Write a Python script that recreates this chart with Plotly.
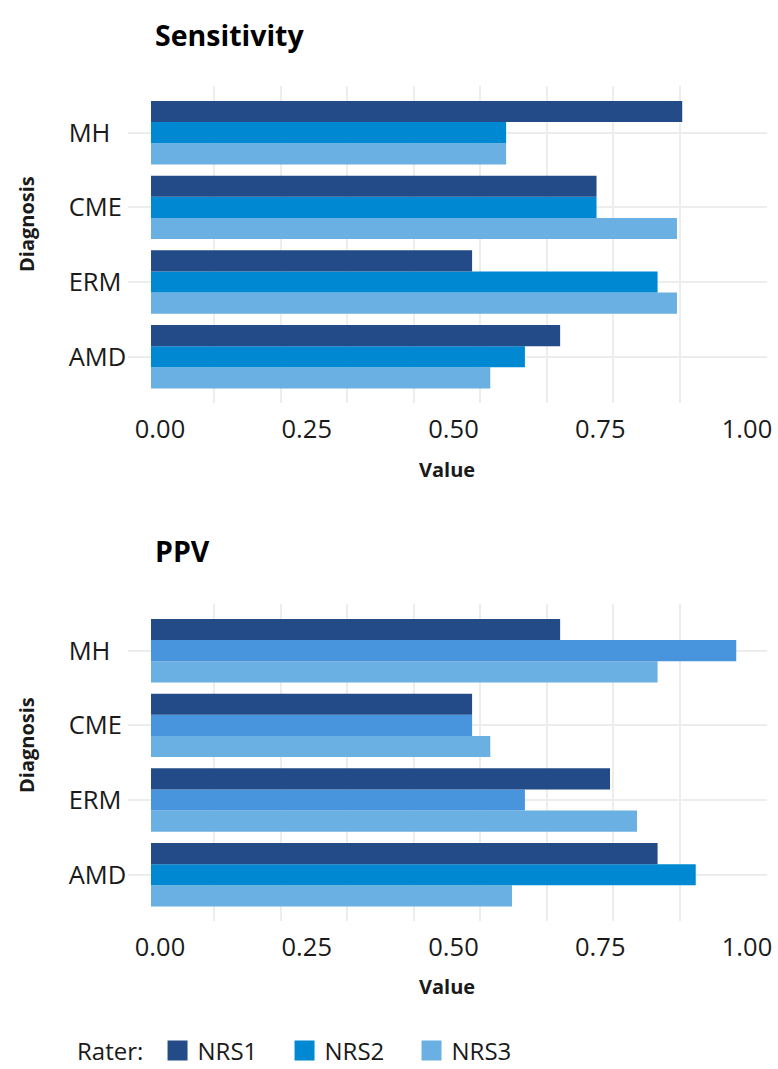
import plotly.graph_objects as go

# ---------------- data ----------------
categories = ["MH", "CME", "ERM", "AMD"]
raters = ["NRS1", "NRS2", "NRS3"]

sens_nrs1 = [0.905, 0.759, 0.547, 0.697]
sens_nrs2 = [0.605, 0.759, 0.863, 0.637]
sens_nrs3 = [0.605, 0.896, 0.896, 0.578]

ppv_nrs1 = [0.697, 0.547, 0.782, 0.863]
ppv_nrs2 = [0.997, 0.547, 0.637, 0.928]
ppv_nrs3 = [0.863, 0.578, 0.828, 0.615]

x_ticks = [0, 0.25, 0.5, 0.75, 1.0]
x_tick_labels = ["0.00", "0.25", "0.50", "0.75", "1.00"]

# ---------------- style ----------------
W, H = 778, 1069
FONT = "Open Sans"
TXT = "#1a1a1a"
GRID = "#ededed"
colors = {"NRS1": "#234b87", "NRS2": "#0089d2", "NRS3": "#6ab0e2"}
ppv_nrs2_colors = ["#4895de", "#4895de", "#4895de", "#0089d2"]


def px_x(p):
    return p / W


def px_y(p):
    return 1 - p / H


panels = [
    dict(title="Sensitivity", vals=[sens_nrs1, sens_nrs2, sens_nrs3],
         cols=[colors["NRS1"], colors["NRS2"], colors["NRS3"]],
         top=86.4, bottom=403, title_y=35, diag_y=224, value_y=470),
    dict(title="PPV", vals=[ppv_nrs1, ppv_nrs2, ppv_nrs3],
         cols=[colors["NRS1"], ppv_nrs2_colors, colors["NRS3"]],
         top=604.4, bottom=921, title_y=551, diag_y=745, value_y=986),
]

fig = go.Figure()
annotations = []
x_dom = [px_x(127.7), px_x(766.7)]
grid_vals = [0.1073 + k * 0.11341 for k in range(8)]

for i, p in enumerate(panels):
    xa = "x" if i == 0 else "x2"
    ya = "y" if i == 0 else "y2"
    # plotly draws the first trace lowest within a group -> NRS3 first
    for r_idx in [2, 1, 0]:
        fig.add_trace(go.Bar(
            y=categories, x=p["vals"][r_idx], orientation="h",
            name=raters[r_idx], marker=dict(color=p["cols"][r_idx], line=dict(width=0)),
            xaxis=xa, yaxis=ya, showlegend=False, hoverinfo="x+y+name",
        ))
    ax_common = dict(
        domain=x_dom, range=[-0.0397, 1.0489], showgrid=False, zeroline=False,
        showline=False, ticks="", tickvals=x_ticks, ticktext=x_tick_labels,
        tickfont=dict(family=FONT, size=25.5, color=TXT), ticklabelshift=9,
        ticklabelstandoff=8,
        minor=dict(tickmode="array", tickvals=grid_vals, showgrid=True,
                   gridcolor=GRID, gridwidth=1.8, ticks=""),
        fixedrange=True,
    )
    ay_common = dict(
        domain=[px_y(p["bottom"]), px_y(p["top"])], type="category",
        categoryorder="array", categoryarray=categories[::-1],
        range=[-0.62, 3.62], showgrid=True, gridcolor=GRID, gridwidth=2,
        zeroline=False, showline=False, ticks="",
        ticklabelposition="inside", ticklabelstandoff=-62, ticklabeloverflow="allow",
        tickfont=dict(family=FONT, size=25.5, color=TXT), fixedrange=True,
    )
    if i == 0:
        fig.update_layout(xaxis=dict(anchor="y", **ax_common), yaxis=dict(anchor="x", **ay_common))
    else:
        fig.update_layout(xaxis2=dict(anchor="y2", **ax_common), yaxis2=dict(anchor="x2", **ay_common))

    annotations.append(dict(text="<b>%s</b>" % p["title"], xref="paper", yref="paper",
                            x=px_x(153), y=px_y(p["title_y"]), xanchor="left", yanchor="middle",
                            showarrow=False, font=dict(family=FONT, size=28.5, color="#000000")))
    annotations.append(dict(text="<b>Value</b>", xref="paper", yref="paper",
                            x=(x_dom[0] + x_dom[1]) / 2, y=px_y(p["value_y"]),
                            xanchor="center", yanchor="middle", showarrow=False,
                            font=dict(family=FONT, size=20, color=TXT)))
    annotations.append(dict(text="<b>Diagnosis</b>", xref="paper", yref="paper",
                            x=px_x(26), y=px_y(p["diag_y"]), textangle=-90,
                            xanchor="center", yanchor="middle", showarrow=False,
                            font=dict(family=FONT, size=20, color=TXT)))

# legend entries (square keys)
for r in raters:
    fig.add_trace(go.Scatter(
        x=[None], y=[None], mode="markers", name=r, showlegend=True,
        marker=dict(symbol="square", size=16, color=colors[r],
                    line=dict(width=4, color=colors[r])),
        xaxis="x2", yaxis="y2", hoverinfo="skip",
    ))

fig.update_layout(
    width=W, height=H, margin=dict(l=0, r=0, t=0, b=0, autoexpand=False),
    paper_bgcolor="white", plot_bgcolor="white",
    barmode="group", bargap=0.15, bargroupgap=0,
    annotations=annotations,
    showlegend=True,
    legend=dict(orientation="h", x=px_x(75), xanchor="left", y=px_y(1051), yanchor="middle",
                title=dict(text="Rater:&nbsp;", side="left", font=dict(family=FONT, size=24, color=TXT)),
                font=dict(family=FONT, size=24, color=TXT), entrywidth=82,
                itemsizing="trace", traceorder="normal", bgcolor="rgba(0,0,0,0)"),
    font=dict(family=FONT, color=TXT),
)

fig.write_html(
    "out.html",
    config={"displayModeBar": False},
    post_script="document.body.style.margin='0';document.body.style.overflow='hidden';",
)
